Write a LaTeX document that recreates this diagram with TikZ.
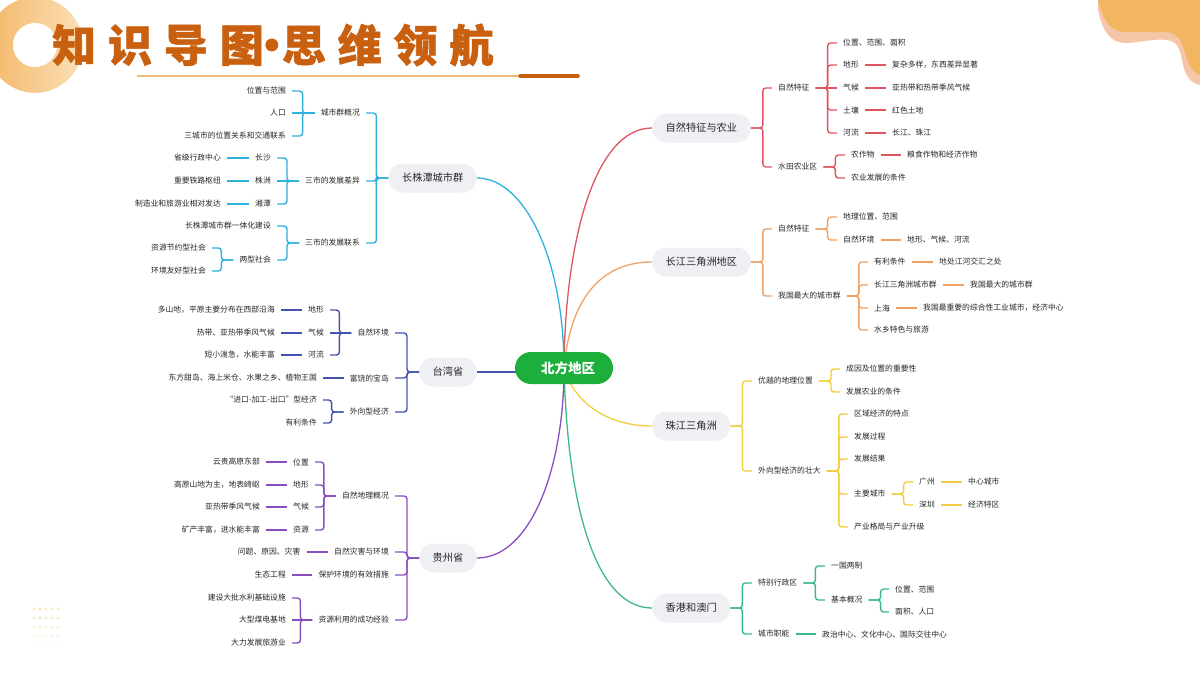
\documentclass[tikz,border=0pt]{standalone}
\usepackage{fontspec}
\setmainfont{Noto Sans CJK SC}
\newfontfamily\titlefont[LetterSpace=27,BoldFeatures={FakeBold=1.2}]{Noto Sans CJK SC}
\definecolor{bluelk}{HTML}{2FB1DD}
\definecolor{redlk}{HTML}{DE5660}
\definecolor{orangelk}{HTML}{F0A263}
\definecolor{yellowlk}{HTML}{F2CE3E}
\definecolor{greenlk}{HTML}{3CB98A}
\definecolor{navylk}{HTML}{4453B0}
\definecolor{purplelk}{HTML}{8A4FBE}
\definecolor{titlec}{HTML}{C8600F}
\definecolor{pillc}{HTML}{EEF0F3}
\definecolor{rootc}{HTML}{1DAF3C}
\definecolor{ringl}{HTML}{F3B869}
\definecolor{ringr}{HTML}{FBDFB6}
\definecolor{blobo}{HTML}{F2B560}
\definecolor{blobp}{HTML}{F6C6A8}
\definecolor{rulec}{HTML}{E8BC78}
\tikzset{
  txt/.style={font=\fontsize{7.8}{9}\selectfont,text=black!85,inner xsep=6pt,inner ysep=1pt},
  rt/.style={txt,anchor=west,xshift=-6pt},
  lt/.style={txt,anchor=east,xshift=6pt},
  pill/.style={fill=pillc,rounded corners=14pt,minimum height=29pt,inner xsep=13.5pt,inner ysep=0pt,
    font=\fontsize{10.2}{12}\selectfont,text=black!85},
  lk/.style={line width=1.4pt,rounded corners=3pt},
  curve/.style={line width=1.3pt}
}
\begin{document}
\begin{tikzpicture}[x=1pt,y=-1pt]
\path[use as bounding box] (0,0) rectangle (1200,675);
\clip (0,0) rectangle (1200,675);
\shade[left color=ringl,right color=ringr] (35,45) circle (48);
\draw[white,line width=1pt] (35,45) circle (48.5);
\fill[white] (35,45) circle (22);
\fill[blobp] (1098,0) -- (1098,10) .. controls (1102,30) and (1110,43) .. (1125,43) .. controls (1145,43) and (1170,33) .. (1178,47) .. controls (1185,60) and (1180,80) .. (1200,85) -- (1200,0) -- cycle;
\fill[blobo] (1098,0) .. controls (1103,20) and (1110,32) .. (1125,32) -- (1165,32) .. controls (1190,32) and (1180,68) .. (1200,75) -- (1200,0) -- cycle;
\foreach \r/\o in {609/.35,618/.3,627/.22,636/.14,644/.08}
  \foreach \c in {34,40,46,52,58}
    \fill[yellow!50!brown,opacity=\o] (\c,\r) circle (1.6);
\draw[rulec,line width=2pt] (137,76) -- (525,76);
\draw[titlec,line width=3.5pt,line cap=round] (520,76) -- (578,76);
\node[font=\fontsize{44}{48}\selectfont\titlefont\bfseries,text=titlec,anchor=west,inner sep=0pt] (title) at (52,45) {知识导图\hspace{-14pt}•\hspace{-12pt}思维领航};

\node[pill,anchor=west] (ra) at (652,128) {自然特征与农业};
\node[rt] (ra1) at (778,88) {自然特征};
\node[rt] (ra11) at (843,43) {位置、范围、面积};
\node[rt] (ra12) at (843,65) {地形};
\node[rt] (ra12a) at (892,65) {复杂多样，东西差异显著};
\node[rt] (ra13) at (843,88) {气候};
\node[rt] (ra13a) at (892,88) {亚热带和热带季风气候};
\node[rt] (ra14) at (843,110) {土壤};
\node[rt] (ra14a) at (892,110) {红色土地};
\node[rt] (ra15) at (843,133) {河流};
\node[rt] (ra15a) at (892,133) {长江、珠江};
\node[rt] (ra2) at (778,167) {水田农业区};
\node[rt] (ra21) at (851,155) {农作物};
\node[rt] (ra21a) at (907,155) {粮食作物和经济作物};
\node[rt] (ra22) at (851,178) {农业发展的条件};
\foreach \a/\b in {ra/ra1,ra/ra2,ra1/ra11,ra1/ra12,ra1/ra14,ra1/ra15,ra2/ra21,ra2/ra22}
  \draw[lk,redlk] (\a.east) -- ++(12,0) |- (\b.west);
\foreach \a/\b in {ra1/ra13,ra12/ra12a,ra13/ra13a,ra14/ra14a,ra15/ra15a,ra21/ra21a}
  \draw[lk,redlk] (\a.east) -- (\b.west);

\node[pill,anchor=west] (ob) at (652,262) {长江三角洲地区};
\node[rt] (ob1) at (778,229) {自然特征};
\node[rt] (ob11) at (843,217) {地理位置、范围};
\node[rt] (ob12) at (843,240) {自然环境};
\node[rt] (ob12a) at (907,240) {地形、气候、河流};
\node[rt] (ob2) at (778,296) {我国最大的城市群};
\node[rt] (ob21) at (874,262) {有利条件};
\node[rt] (ob21a) at (939,262) {地处江河交汇之处};
\node[rt] (ob22) at (874,285) {长江三角洲城市群};
\node[rt] (ob22a) at (970,285) {我国最大的城市群};
\node[rt] (ob23) at (874,308) {上海};
\node[rt] (ob23a) at (923,308) {我国最重要的综合性工业城市，经济中心};
\node[rt] (ob24) at (874,330) {水乡特色与旅游};
\foreach \a/\b in {ob/ob1,ob/ob2,ob1/ob11,ob1/ob12,ob2/ob21,ob2/ob22,ob2/ob23,ob2/ob24}
  \draw[lk,orangelk] (\a.east) -- ++(12,0) |- (\b.west);
\foreach \a/\b in {ob12/ob12a,ob21/ob21a,ob22/ob22a,ob23/ob23a}
  \draw[lk,orangelk] (\a.east) -- (\b.west);

\node[pill,anchor=west] (yc) at (652,426) {珠江三角洲};
\node[rt] (yc1) at (758,381) {优越的地理位置};
\node[rt] (yc11) at (846,369) {成因及位置的重要性};
\node[rt] (yc12) at (846,392) {发展农业的条件};
\node[rt] (yc2) at (758,471) {外向型经济的壮大};
\node[rt] (yc21) at (854,414) {区域经济的特点};
\node[rt] (yc22) at (854,437) {发展过程};
\node[rt] (yc23) at (854,459) {发展结果};
\node[rt] (yc24) at (854,494) {主要城市};
\node[rt] (yc241) at (919,482) {广州};
\node[rt] (yc241a) at (968,482) {中心城市};
\node[rt] (yc242) at (919,505) {深圳};
\node[rt] (yc242a) at (968,505) {经济特区};
\node[rt] (yc25) at (854,527) {产业格局与产业升级};
\foreach \a/\b in {yc/yc1,yc/yc2,yc1/yc11,yc1/yc12,yc2/yc21,yc2/yc22,yc2/yc23,yc2/yc24,yc2/yc25,yc24/yc241,yc24/yc242}
  \draw[lk,yellowlk] (\a.east) -- ++(12,0) |- (\b.west);
\foreach \a/\b in {yc241/yc241a,yc242/yc242a}
  \draw[lk,yellowlk] (\a.east) -- (\b.west);

\node[pill,anchor=west] (gd) at (652,608) {香港和澳门};
\node[rt] (gd1) at (758,583) {特别行政区};
\node[rt] (gd11) at (831,566) {一国两制};
\node[rt] (gd12) at (831,600) {基本概况};
\node[rt] (gd121) at (895,589) {位置、范围};
\node[rt] (gd122) at (895,612) {面积、人口};
\node[rt] (gd2) at (758,634) {城市职能};
\node[rt] (gd2a) at (822,634) {政治中心、文化中心、国际交往中心};
\foreach \a/\b in {gd/gd1,gd/gd2,gd1/gd11,gd1/gd12,gd12/gd121,gd12/gd122}
  \draw[lk,greenlk] (\a.east) -- ++(12,0) |- (\b.west);
\draw[lk,greenlk] (gd2.east) -- (gd2a.west);

\node[pill,anchor=east] (be) at (477,178) {长株潭城市群};
\node[lt] (be1) at (360,113) {城市群概况};
\node[lt] (be11) at (286,91) {位置与范围};
\node[lt] (be12) at (286,113) {人口};
\node[lt] (be13) at (286,136) {三城市的位置关系和交通联系};
\node[lt] (be2) at (360,181) {三市的发展差异};
\node[lt] (be21) at (271,158) {长沙};
\node[lt] (be21a) at (221,158) {省级行政中心};
\node[lt] (be22) at (271,181) {株洲};
\node[lt] (be22a) at (221,181) {重要铁路枢纽};
\node[lt] (be23) at (271,204) {湘潭};
\node[lt] (be23a) at (221,204) {制造业和旅游业相对发达};
\node[lt] (be3) at (360,243) {三市的发展联系};
\node[lt] (be31) at (271,226) {长株潭城市群一体化建设};
\node[lt] (be32) at (271,260) {两型社会};
\node[lt] (be321) at (206,248) {资源节约型社会};
\node[lt] (be322) at (206,271) {环境友好型社会};
\foreach \a/\b in {be/be1,be/be2,be/be3,be1/be11,be1/be13,be2/be21,be2/be23,be3/be31,be3/be32,be32/be321,be32/be322}
  \draw[lk,bluelk] (\a.west) -- ++(-12,0) |- (\b.east);
\foreach \a/\b in {be1/be12,be2/be22,be21/be21a,be22/be22a,be23/be23a}
  \draw[lk,bluelk] (\a.west) -- (\b.east);

\node[pill,anchor=east] (nf) at (477,372) {台湾省};
\node[lt] (nf1) at (389,333) {自然环境};
\node[lt] (nf11) at (324,310) {地形};
\node[lt] (nf11a) at (275,310) {多山地，平原主要分布在西部沿海};
\node[lt] (nf12) at (324,333) {气候};
\node[lt] (nf12a) at (275,333) {热带、亚热带季风气候};
\node[lt] (nf13) at (324,355) {河流};
\node[lt] (nf13a) at (275,355) {短小湍急，水能丰富};
\node[lt] (nf2) at (389,378) {富饶的宝岛};
\node[lt] (nf2a) at (317,378) {东方甜岛、海上米仓、水果之乡、植物王国};
\node[lt] (nf3) at (389,412) {外向型经济};
\node[lt] (nf31) at (317,400) {“进口-加工-出口”型经济};
\node[lt] (nf32) at (317,423) {有利条件};
\foreach \a/\b in {nf/nf1,nf/nf2,nf/nf3,nf1/nf11,nf1/nf13,nf3/nf31,nf3/nf32}
  \draw[lk,navylk] (\a.west) -- ++(-12,0) |- (\b.east);
\foreach \a/\b in {nf1/nf12,nf11/nf11a,nf12/nf12a,nf13/nf13a,nf2/nf2a}
  \draw[lk,navylk] (\a.west) -- (\b.east);

\node[pill,anchor=east] (pg) at (477,558) {贵州省};
\node[lt] (pg1) at (389,496) {自然地理概况};
\node[lt] (pg11) at (309,462) {位置};
\node[lt] (pg11a) at (260,462) {云贵高原东部};
\node[lt] (pg12) at (309,485) {地形};
\node[lt] (pg12a) at (260,485) {高原山地为主，地表崎岖};
\node[lt] (pg13) at (309,507) {气候};
\node[lt] (pg13a) at (260,507) {亚热带季风气候};
\node[lt] (pg14) at (309,530) {资源};
\node[lt] (pg14a) at (260,530) {矿产丰富，进水能丰富};
\node[lt] (pg2) at (389,552) {自然灾害与环境};
\node[lt] (pg2a) at (300.5,552) {问题、原因、灾害};
\node[lt] (pg3) at (389,575) {保护环境的有效措施};
\node[lt] (pg3a) at (286,575) {生态工程};
\node[lt] (pg4) at (389,620) {资源利用的成功经验};
\node[lt] (pg41) at (286,598) {建设大批水利基础设施};
\node[lt] (pg42) at (286,620) {大型煤电基地};
\node[lt] (pg43) at (286,643) {大力发展旅游业};
\foreach \a/\b in {pg/pg1,pg/pg2,pg/pg3,pg/pg4,pg1/pg11,pg1/pg12,pg1/pg13,pg1/pg14,pg4/pg41,pg4/pg43}
  \draw[lk,purplelk] (\a.west) -- ++(-12,0) |- (\b.east);
\foreach \a/\b in {pg11/pg11a,pg12/pg12a,pg13/pg13a,pg14/pg14a,pg2/pg2a,pg3/pg3a,pg4/pg42}
  \draw[lk,purplelk] (\a.west) -- (\b.east);

\coordinate (hub) at (564,368);
\coordinate (hubw) at (530,372);
\draw[curve,redlk] (hub) .. controls (565,240) and (595,128) .. (ra.west);
\draw[curve,orangelk] (hub) .. controls (570,300) and (600,262) .. (ob.west);
\draw[curve,yellowlk] (hub) .. controls (575,405) and (610,426) .. (yc.west);
\draw[curve,greenlk] (hub) .. controls (568,520) and (600,608) .. (gd.west);
\draw[curve,bluelk] (hub) .. controls (564,260) and (525,178) .. (be.east);
\draw[curve,navylk] (hubw) -- (nf.east);
\draw[curve,purplelk] (hub) .. controls (564,470) and (530,558) .. (pg.east);
\node[fill=rootc,rounded corners=16pt,minimum width=98pt,minimum height=32pt,inner sep=0pt,
  font=\fontsize{13.5}{15}\selectfont\bfseries,text=white] (root) at (564,368) {\hspace*{8pt}北方地区};
\end{tikzpicture}
\end{document}
